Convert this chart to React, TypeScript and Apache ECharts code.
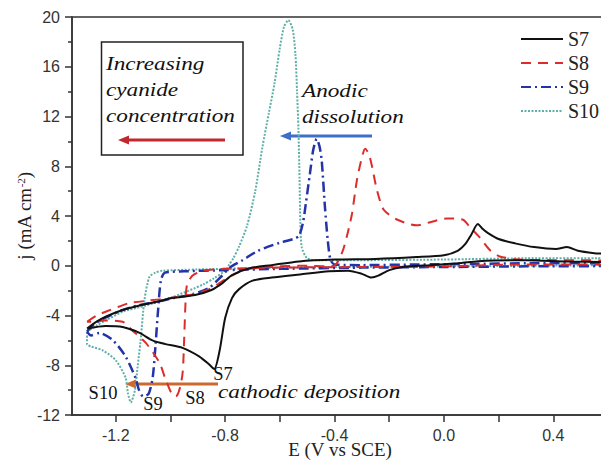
import React, { useEffect, useRef } from "react";
import * as echarts from "echarts";

// ---- data ----
const seriesNames = ["S7", "S8", "S9", "S10"];
const xTickLabels = [-1.2, -0.8, -0.4, 0.0, 0.4];
const xTickMarks = [-1.2, -1.0, -0.8, -0.6, -0.4, -0.2, 0.0, 0.2, 0.4, 0.6];

const s7 = [
  [-1.305, -5.05], [-1.27, -4.5], [-1.237, -4.1], [-1.18, -3.6], [-1.113, -3.2], [-1.05, -2.9],
  [-0.993, -2.6], [-0.91, -2.35], [-0.85, -1.95], [-0.81, -1.4], [-0.775, -0.75], [-0.71, -0.2],
  [-0.63, 0.05], [-0.53, 0.35], [-0.4, 0.5], [-0.25, 0.55], [-0.1, 0.7], [0.0, 0.85], [0.05, 1.2],
  [0.08, 1.8], [0.1, 2.5], [0.124, 3.35], [0.14, 3.0], [0.16, 2.65], [0.2, 2.15], [0.26, 1.8],
  [0.33, 1.5], [0.41, 1.35], [0.45, 1.5], [0.49, 1.2], [0.55, 1.0], [0.6, 0.9],
  [0.6, 0.3], [0.45, 0.35], [0.3, 0.45], [0.15, 0.4], [0.05, 0.2], [-0.05, 0.05], [-0.15, -0.1],
  [-0.2, -0.35], [-0.24, -0.8], [-0.265, -0.95], [-0.3, -0.65], [-0.35, -0.4], [-0.42, -0.45],
  [-0.526, -0.7], [-0.63, -0.95], [-0.7, -1.2], [-0.75, -1.9], [-0.775, -2.6], [-0.8, -4.2],
  [-0.82, -6.8], [-0.84, -8.3], [-0.86, -7.9], [-0.894, -7.3], [-0.956, -6.6], [-1.018, -6.3],
  [-1.066, -6.0], [-1.113, -5.4], [-1.175, -4.93], [-1.237, -4.85], [-1.305, -5.05],
];

const s8 = [
  [-1.305, -4.5], [-1.27, -4.0], [-1.237, -3.7], [-1.19, -3.3], [-1.15, -3.0], [-1.08, -2.8],
  [-1.0, -2.6], [-0.92, -2.3], [-0.86, -1.9], [-0.8, -1.1], [-0.75, -0.5], [-0.7, -0.2],
  [-0.6, -0.05], [-0.5, 0.0], [-0.43, -0.05], [-0.4, 0.0], [-0.37, 1.2], [-0.35, 2.8],
  [-0.336, 4.2], [-0.318, 6.9], [-0.3, 8.7], [-0.288, 9.4], [-0.275, 9.0], [-0.263, 8.0],
  [-0.245, 6.1], [-0.22, 4.5], [-0.17, 3.7], [-0.1, 3.25], [-0.05, 3.5], [0.01, 3.8], [0.07, 3.7],
  [0.095, 3.1], [0.13, 2.3], [0.168, 1.26], [0.204, 0.75], [0.277, 0.5], [0.4, 0.45], [0.6, 0.4],
  [0.6, 0.1], [0.3, 0.1], [0.0, -0.05], [-0.3, -0.1], [-0.6, -0.15], [-0.8, -0.25], [-0.88, -0.4],
  [-0.92, -0.8], [-0.94, -1.6], [-0.945, -3.0], [-0.95, -6.0], [-0.955, -8.5], [-0.965, -9.8],
  [-0.98, -10.5], [-0.995, -10.3], [-1.02, -9.0], [-1.04, -7.8], [-1.09, -6.2], [-1.14, -5.2],
  [-1.175, -4.5], [-1.24, -4.4], [-1.285, -4.5], [-1.305, -4.5],
];

const s9 = [
  [-1.305, -5.3], [-1.28, -4.7], [-1.24, -4.2], [-1.18, -3.6], [-1.12, -3.2], [-1.05, -2.9],
  [-0.99, -2.6], [-0.92, -2.3], [-0.86, -1.8], [-0.82, -1.0], [-0.78, -0.1], [-0.74, 0.4],
  [-0.68, 1.2], [-0.6, 1.85], [-0.55, 2.15], [-0.53, 2.4], [-0.515, 3.5], [-0.505, 5.0],
  [-0.49, 7.4], [-0.478, 9.3], [-0.465, 10.2], [-0.455, 9.6], [-0.447, 8.5], [-0.435, 4.7],
  [-0.425, 2.1], [-0.415, 0.5], [-0.4, 0.1], [-0.3, 0.05], [-0.1, 0.1], [0.1, 0.15], [0.3, 0.2],
  [0.6, 0.2],
  [0.6, 0.0], [0.3, -0.05], [0.0, -0.1], [-0.3, -0.15], [-0.6, -0.25], [-0.8, -0.35], [-0.95, -0.45],
  [-1.02, -0.55], [-1.035, -1.2], [-1.045, -3.5], [-1.055, -6.5], [-1.065, -9.0], [-1.08, -10.3],
  [-1.1, -10.5], [-1.115, -10.0], [-1.128, -9.0], [-1.164, -7.3], [-1.21, -6.0], [-1.26, -5.4],
  [-1.29, -5.6], [-1.305, -5.3],
];

const s10 = [
  [-1.305, -5.3], [-1.27, -4.8], [-1.237, -4.4], [-1.175, -3.7], [-1.09, -3.2], [-0.99, -2.5],
  [-0.88, -1.5], [-0.84, -1.0], [-0.8, -0.4], [-0.785, 0.1], [-0.77, 0.6], [-0.75, 1.5],
  [-0.72, 3.2], [-0.69, 6.0], [-0.664, 9.5], [-0.64, 12.3], [-0.62, 14.6], [-0.6, 17.5],
  [-0.585, 19.2], [-0.569, 19.75], [-0.553, 19.0], [-0.543, 17.0], [-0.537, 14.0], [-0.532, 11.0],
  [-0.528, 7.0], [-0.525, 3.5], [-0.52, 1.5], [-0.5, 0.6], [-0.46, 0.45], [-0.3, 0.45], [0.0, 0.5],
  [0.3, 0.6], [0.6, 0.6],
  [0.6, 0.1], [0.3, 0.0], [0.0, -0.05], [-0.4, -0.1], [-0.7, -0.2], [-0.9, -0.3], [-1.03, -0.4],
  [-1.055, -0.55], [-1.077, -0.9], [-1.095, -2.75], [-1.11, -6.2], [-1.12, -8.1], [-1.13, -10.0],
  [-1.145, -11.0], [-1.155, -10.3], [-1.164, -9.0], [-1.2, -7.6], [-1.248, -6.8], [-1.29, -6.5],
  [-1.305, -6.3], [-1.305, -5.3],
];

const seriesData = [s7, s8, s9, s10];
const seriesColors = ["#111111", "#dd2c2c", "#2433a8", "#5fb0a8"];
const seriesWidths = [2, 2, 2.5, 2];
const seriesDash: any[] = ["solid", [10, 7], [10, 4, 2, 4], [2, 1.5]];

function arrow(x1: number, x2: number, y: number, color: string) {
  // x1 tail, x2 tip (tip to the left)
  return [
    { type: "line", shape: { x1: x1, y1: y, x2: x2 + 8, y2: y }, style: { stroke: color, lineWidth: 3 } },
    {
      type: "polygon",
      shape: { points: [[x2, y], [x2 + 11, y - 4.5], [x2 + 11, y + 4.5]] },
      style: { fill: color },
    },
  ];
}

function label(text: string, x: number, y: number, size: number, italic: boolean, sx: number, align = "left") {
  return {
    type: "text",
    x,
    y,
    scaleX: sx,
    style: {
      text,
      fontFamily: "Liberation Serif",
      fontSize: size,
      fontStyle: italic ? "italic" : "normal",
      fill: "#111",
      align,
      verticalAlign: "middle",
    },
  };
}

export default function App() {
  const ref = useRef<HTMLDivElement>(null);
  useEffect(() => {
    if (!ref.current) return;
    const chart = echarts.init(ref.current, null, { renderer: "svg" });
    const axisColor = "#333";
    const option: any = {
      animation: false,
      backgroundColor: "#fff",
      grid: {
        left: 72, top: 17, width: 536, height: 398,
        containLabel: false,
        outerBoundsMode: "none",
        show: true, borderColor: axisColor, borderWidth: 1.5, backgroundColor: "transparent",
      },
      legend: {
        data: seriesNames,
        orient: "vertical",
        left: 520,
        top: 29,
        padding: 0,
        itemWidth: 42,
        itemHeight: 14,
        itemGap: 4,
        selectedMode: false,
        itemStyle: { opacity: 0 },
        textStyle: { fontFamily: "Liberation Serif", fontSize: 20, color: "#222" },
      },
      xAxis: {
        type: "value",
        min: -1.36,
        max: 0.6,
        axisLine: { onZero: false, lineStyle: { color: axisColor, width: 1.5 } },
        axisTick: { customValues: xTickMarks, length: 7, lineStyle: { color: axisColor, width: 1.5 } },
        axisLabel: {
          customValues: xTickLabels,
          formatter: (v: number) => v.toFixed(1),
          margin: 12,
          fontSize: 16,
          color: axisColor,
          fontFamily: "Liberation Sans",
        },
        splitLine: { show: false },
        name: "E (V vs SCE)",
        nameLocation: "middle",
        nameGap: 25,
        nameMoveOverlap: false,
        nameTextStyle: { fontFamily: "Liberation Serif", fontSize: 19, color: "#222" },
      },
      yAxis: {
        type: "value",
        min: -12,
        max: 20,
        interval: 4,
        axisLine: { show: true, onZero: false, lineStyle: { color: axisColor, width: 1.5 } },
        axisTick: { length: 7, lineStyle: { color: axisColor, width: 1.5 } },
        minorTick: { show: true, splitNumber: 2, length: 4, lineStyle: { color: axisColor, width: 1.5 } },
        axisLabel: { margin: 12, fontSize: 16, color: axisColor, fontFamily: "Liberation Sans" },
        splitLine: { show: false },
        name: "j (mA cm{sup|-2})",
        nameLocation: "middle",
        nameGap: 38,
        nameMoveOverlap: false,
        nameTextStyle: {
          fontFamily: "Liberation Serif",
          fontSize: 19,
          color: "#222",
          rich: {
            sup: { fontFamily: "Liberation Serif", fontSize: 11, color: "#222", verticalAlign: "top", lineHeight: 12 },
          },
        },
      },
      series: seriesNames.map((name, i) => ({
        name,
        type: "line",
        data: seriesData[i],
        symbol: "none",
        showSymbol: false,
        smooth: 0.25,
        z: 10 - i,
        lineStyle: { color: seriesColors[i], width: seriesWidths[i], type: seriesDash[i] },
        itemStyle: { color: seriesColors[i] },
      })),
      graphic: [
        { type: "rect", shape: { x: 101.5, y: 42, width: 141.5, height: 113 }, style: { fill: "none", stroke: "#222", lineWidth: 1.5 } },
        label("Increasing", 106, 63.5, 19.5, true, 1.19),
        label("cyanide", 106, 89.5, 19.5, true, 1.19),
        label("concentration", 106, 115.5, 19.5, true, 1.19),
        ...arrow(225, 118, 140, "#c0282e"),
        label("Anodic", 302, 90.5, 19.5, true, 1.19),
        label("dissolution", 302, 116.5, 19.5, true, 1.19),
        ...arrow(372, 280, 136, "#3f6fc6"),
        label("cathodic deposition", 218, 391.5, 19.5, true, 1.19),
        ...arrow(218, 125, 384, "#cc6a2e"),
        label("S7", 223, 374, 18.5, false, 1, "center"),
        label("S10", 103, 393, 18.5, false, 1, "center"),
        label("S9", 153, 404, 18.5, false, 1, "center"),
        label("S8", 195, 398, 18.5, false, 1, "center"),
      ],
    };
    chart.setOption(option);
    return () => chart.dispose();
  }, []);
  return (
    <div
      ref={ref}
      style={{ position: "fixed", left: 0, top: 0, width: 601, height: 461, background: "#fff" }}
    />
  );
}
